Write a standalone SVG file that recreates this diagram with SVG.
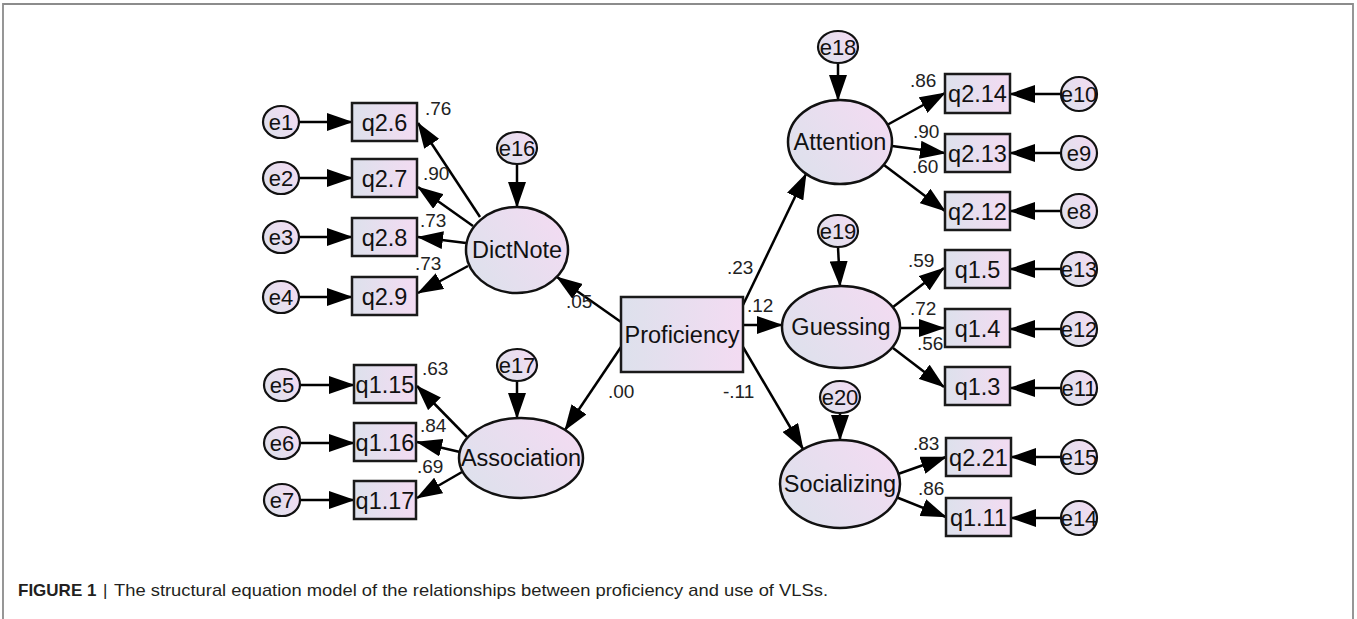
<svg xmlns="http://www.w3.org/2000/svg" width="1357" height="619" viewBox="0 0 1357 619">
<defs>
<linearGradient id="gb" x1="0" y1="0.5" x2="1" y2="0.5"><stop offset="0" stop-color="#dde1ec"/><stop offset="1" stop-color="#f3dbf2"/></linearGradient>
<linearGradient id="ge" x1="0" y1="0.8" x2="1" y2="0.2"><stop offset="0" stop-color="#dde1ec"/><stop offset="1" stop-color="#f3dbf2"/></linearGradient>
<marker id="ah" viewBox="0 0 26 18" refX="25" refY="9" markerWidth="26" markerHeight="18" markerUnits="userSpaceOnUse" orient="auto"><path d="M0,0 L26,9 L0,18 z" fill="#000"/></marker>
<style>
.box{fill:url(#gb);stroke:#1a1a1a;stroke-width:2.5}
.lat{fill:url(#ge);stroke:#111;stroke-width:2.5}
.err{fill:url(#ge);stroke:#111;stroke-width:2.2}
.lbl{font-family:"Liberation Sans",Arial,sans-serif;font-size:23.5px;fill:#111;text-anchor:middle}
.el{font-family:"Liberation Sans",Arial,sans-serif;font-size:22px;fill:#111;text-anchor:middle}
.w{font-family:"Liberation Sans",Arial,sans-serif;font-size:19px;fill:#222}
.c line{stroke:#000;stroke-width:2.5;marker-end:url(#ah)}
.cap{font-family:"Liberation Sans",Arial,sans-serif;font-size:17px;fill:#231f20}
</style>
</defs>
<rect width="1357" height="619" fill="#fff"/>
<path d="M3,619 V4 H1353 V619" fill="none" stroke="#8c8c8c" stroke-width="1.8"/>

<g id="connectors" class="c">
<line x1="299" y1="122" x2="352" y2="122"/>
<line x1="299" y1="178" x2="352" y2="178"/>
<line x1="299" y1="237" x2="352" y2="237"/>
<line x1="299" y1="297" x2="352" y2="297"/>
<line x1="300" y1="385" x2="354" y2="385"/>
<line x1="300" y1="443" x2="354" y2="443"/>
<line x1="300" y1="500" x2="354" y2="500"/>
<line x1="1060" y1="94" x2="1010" y2="94"/>
<line x1="1060" y1="153" x2="1010" y2="153"/>
<line x1="1060" y1="211" x2="1010" y2="211"/>
<line x1="1060" y1="269" x2="1010" y2="269"/>
<line x1="1060" y1="329" x2="1010" y2="329"/>
<line x1="1060" y1="388" x2="1010" y2="388"/>
<line x1="1060" y1="457" x2="1011" y2="457"/>
<line x1="1060" y1="518" x2="1011" y2="518"/>
<line x1="517" y1="164" x2="517" y2="207"/>
<line x1="517" y1="381" x2="517" y2="418"/>
<line x1="838" y1="63" x2="838" y2="100"/>
<line x1="838" y1="247" x2="840" y2="286"/>
<line x1="840" y1="413" x2="840" y2="440"/>
<line x1="480" y1="217" x2="418" y2="123"/>
<line x1="473" y1="226" x2="418" y2="187"/>
<line x1="466" y1="243" x2="418" y2="237"/>
<line x1="468" y1="266" x2="418" y2="293"/>
<line x1="467" y1="437" x2="417" y2="386"/>
<line x1="460" y1="452" x2="417" y2="442"/>
<line x1="462" y1="472" x2="417" y2="498"/>
<line x1="887" y1="125" x2="945" y2="93"/>
<line x1="892" y1="146" x2="945" y2="153"/>
<line x1="884" y1="165" x2="945" y2="211"/>
<line x1="893" y1="307" x2="944" y2="268"/>
<line x1="900" y1="328" x2="944" y2="328"/>
<line x1="893" y1="348" x2="944" y2="387"/>
<line x1="898" y1="474" x2="946" y2="457"/>
<line x1="896" y1="497" x2="946" y2="517"/>
<line x1="621" y1="322" x2="557" y2="277"/>
<line x1="621" y1="347" x2="565" y2="430"/>
<line x1="743" y1="305" x2="806" y2="174"/>
<line x1="743" y1="325" x2="782" y2="325"/>
<line x1="743" y1="347" x2="803" y2="449"/>
</g>

<g id="weights" class="w">
<text x="425" y="115">.76</text>
<text x="423" y="180">.90</text>
<text x="420" y="227">.73</text>
<text x="415" y="270">.73</text>
<text x="422" y="375">.63</text>
<text x="420" y="432">.84</text>
<text x="417" y="473">.69</text>
<text x="566" y="308">.05</text>
<text x="608" y="398">.00</text>
<text x="727" y="274">.23</text>
<text x="747" y="312">.12</text>
<text x="723" y="398">-.11</text>
<text x="910" y="87">.86</text>
<text x="913" y="138">.90</text>
<text x="912" y="173">.60</text>
<text x="908" y="267">.59</text>
<text x="910" y="315">.72</text>
<text x="917" y="350">.56</text>
<text x="913" y="450">.83</text>
<text x="918" y="495">.86</text>
</g>

<g id="Proficiency"><rect class="box" x="621" y="297" width="122" height="75"/><text class="lbl" x="682" y="343">Proficiency</text></g>
<g id="DictNote"><ellipse class="lat" cx="517" cy="250" rx="51" ry="43"/><text class="lbl" x="517" y="258">DictNote</text></g>
<g id="Association"><ellipse class="lat" cx="521" cy="458" rx="62" ry="40"/><text class="lbl" x="521" y="466">Association</text></g>
<g id="Attention"><ellipse class="lat" cx="840" cy="142" rx="52" ry="42"/><text class="lbl" x="840" y="150">Attention</text></g>
<g id="Guessing"><ellipse class="lat" cx="841" cy="327" rx="59" ry="41"/><text class="lbl" x="841" y="335">Guessing</text></g>
<g id="Socializing"><ellipse class="lat" cx="840" cy="484" rx="60" ry="44"/><text class="lbl" x="840" y="492">Socializing</text></g>

<g id="q2.6"><rect class="box" x="352" y="103" width="65" height="38"/><text class="lbl" x="384.5" y="131">q2.6</text></g>
<g id="q2.7"><rect class="box" x="352" y="159" width="65" height="38"/><text class="lbl" x="384.5" y="187">q2.7</text></g>
<g id="q2.8"><rect class="box" x="352" y="218" width="65" height="38"/><text class="lbl" x="384.5" y="246">q2.8</text></g>
<g id="q2.9"><rect class="box" x="352" y="277" width="65" height="38"/><text class="lbl" x="384.5" y="305">q2.9</text></g>
<g id="q1.15"><rect class="box" x="354" y="365" width="62" height="38"/><text class="lbl" x="385" y="393">q1.15</text></g>
<g id="q1.16"><rect class="box" x="354" y="423" width="62" height="38"/><text class="lbl" x="385" y="451">q1.16</text></g>
<g id="q1.17"><rect class="box" x="354" y="481" width="62" height="38"/><text class="lbl" x="385" y="509">q1.17</text></g>

<g id="q2.14"><rect class="box" x="945" y="74" width="65" height="39"/><text class="lbl" x="977.5" y="102">q2.14</text></g>
<g id="q2.13"><rect class="box" x="945" y="134" width="65" height="38"/><text class="lbl" x="977.5" y="162">q2.13</text></g>
<g id="q2.12"><rect class="box" x="945" y="192" width="65" height="38"/><text class="lbl" x="977.5" y="220">q2.12</text></g>
<g id="q1.5"><rect class="box" x="945" y="250" width="65" height="38"/><text class="lbl" x="977.5" y="278">q1.5</text></g>
<g id="q1.4"><rect class="box" x="945" y="309" width="65" height="38"/><text class="lbl" x="977.5" y="337">q1.4</text></g>
<g id="q1.3"><rect class="box" x="945" y="367" width="65" height="38"/><text class="lbl" x="977.5" y="395">q1.3</text></g>
<g id="q2.21"><rect class="box" x="946" y="438" width="65" height="38"/><text class="lbl" x="978.5" y="466">q2.21</text></g>
<g id="q1.11"><rect class="box" x="946" y="498" width="65" height="38"/><text class="lbl" x="978.5" y="526">q1.11</text></g>

<g id="e1"><ellipse class="err" cx="281" cy="122" rx="18" ry="16"/><text class="el" x="281" y="130">e1</text></g>
<g id="e2"><ellipse class="err" cx="281" cy="178" rx="18" ry="16"/><text class="el" x="281" y="186">e2</text></g>
<g id="e3"><ellipse class="err" cx="281" cy="237" rx="18" ry="16"/><text class="el" x="281" y="245">e3</text></g>
<g id="e4"><ellipse class="err" cx="281" cy="297" rx="18" ry="16"/><text class="el" x="281" y="305">e4</text></g>
<g id="e5"><ellipse class="err" cx="282" cy="385" rx="18" ry="16"/><text class="el" x="282" y="393">e5</text></g>
<g id="e6"><ellipse class="err" cx="282" cy="443" rx="18" ry="16"/><text class="el" x="282" y="451">e6</text></g>
<g id="e7"><ellipse class="err" cx="282" cy="500" rx="18" ry="16"/><text class="el" x="282" y="508">e7</text></g>
<g id="e16"><ellipse class="err" cx="517" cy="148" rx="20" ry="16"/><text class="el" x="517" y="156">e16</text></g>
<g id="e17"><ellipse class="err" cx="517" cy="365" rx="20" ry="16"/><text class="el" x="517" y="373">e17</text></g>
<g id="e18"><ellipse class="err" cx="838" cy="47" rx="20" ry="16"/><text class="el" x="838" y="55">e18</text></g>
<g id="e19"><ellipse class="err" cx="838" cy="231" rx="20" ry="16"/><text class="el" x="838" y="239">e19</text></g>
<g id="e20"><ellipse class="err" cx="840" cy="397" rx="20" ry="16"/><text class="el" x="840" y="405">e20</text></g>
<g id="e10"><ellipse class="err" cx="1079" cy="94" rx="18" ry="17"/><text class="el" x="1079" y="102">e10</text></g>
<g id="e9"><ellipse class="err" cx="1079" cy="153" rx="18" ry="17"/><text class="el" x="1079" y="161">e9</text></g>
<g id="e8"><ellipse class="err" cx="1079" cy="211" rx="18" ry="17"/><text class="el" x="1079" y="219">e8</text></g>
<g id="e13"><ellipse class="err" cx="1079" cy="269" rx="18" ry="17"/><text class="el" x="1079" y="277">e13</text></g>
<g id="e12"><ellipse class="err" cx="1079" cy="329" rx="18" ry="17"/><text class="el" x="1079" y="337">e12</text></g>
<g id="e11"><ellipse class="err" cx="1079" cy="388" rx="18" ry="17"/><text class="el" x="1079" y="396">e11</text></g>
<g id="e15"><ellipse class="err" cx="1079" cy="457" rx="18" ry="17"/><text class="el" x="1079" y="465">e15</text></g>
<g id="e14"><ellipse class="err" cx="1079" cy="518" rx="18" ry="17"/><text class="el" x="1079" y="526">e14</text></g>

<g id="caption"><text class="cap" y="596"><tspan x="18" font-weight="bold">FIGURE 1</tspan><tspan x="103">|</tspan><tspan x="114" textLength="714" lengthAdjust="spacingAndGlyphs">The structural equation model of the relationships between proficiency and use of VLSs.</tspan></text></g>
</svg>
